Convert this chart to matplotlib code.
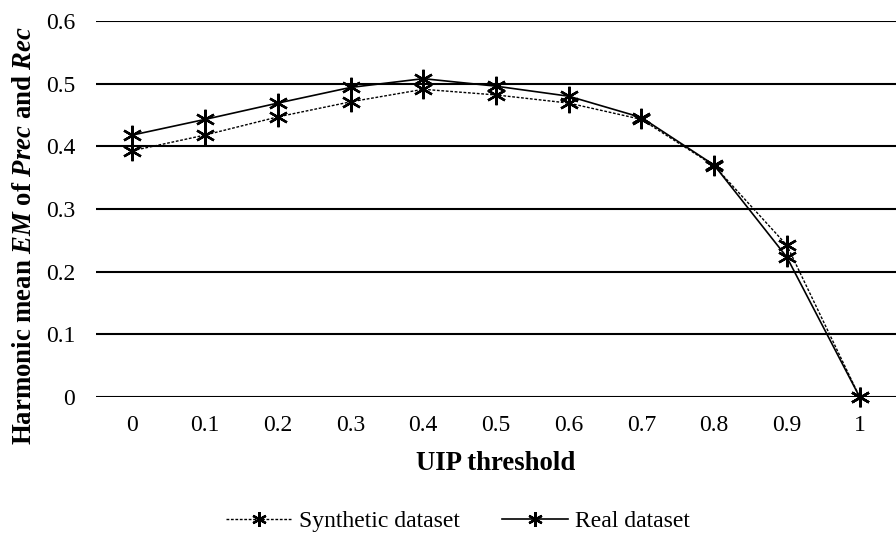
import matplotlib
matplotlib.use('Agg')
import matplotlib.pyplot as plt

# Data
thresholds = ['0', '0.1', '0.2', '0.3', '0.4', '0.5', '0.6', '0.7', '0.8', '0.9', '1']
synthetic = [0.393, 0.418, 0.447, 0.471, 0.491, 0.482, 0.469, 0.443, 0.369, 0.242, 0.0]
real = [0.418, 0.443, 0.469, 0.494, 0.508, 0.496, 0.480, 0.446, 0.370, 0.223, 0.0]
yticks = [0, 0.1, 0.2, 0.3, 0.4, 0.5, 0.6]

plt.rcParams['font.family'] = 'Liberation Serif'
plt.rcParams['mathtext.fontset'] = 'custom'
plt.rcParams['mathtext.bfit'] = 'Liberation Serif:italic:bold'
plt.rcParams['mathtext.rm'] = 'Liberation Serif'

fig = plt.figure(figsize=(8.96, 5.43), dpi=100)
ax = fig.add_axes([96 / 896, 1 - 397 / 543, 800 / 896, 376 / 543])

x = list(range(len(thresholds)))
asterisk = (6, 2, 0)

for y in yticks:
    ax.axhline(y, color='black', linewidth=1.5, zorder=1)

ax.plot(x, synthetic, color='black', linestyle=(0, (2, 1.2)), linewidth=1.0,
        marker=asterisk, markersize=14, markeredgewidth=1.7, label='Synthetic dataset',
        zorder=3, clip_on=False)
ax.plot(x, real, color='black', linestyle='-', linewidth=1.2,
        marker=asterisk, markersize=14, markeredgewidth=1.7, label='Real dataset',
        zorder=3, clip_on=False)

ax.set_xlim(-0.5, len(thresholds) - 0.5)
ax.set_ylim(0, 0.6)
ax.set_xticks(x)
ax.set_xticklabels(thresholds)
ax.set_yticks(yticks)
ax.set_yticklabels(['0', '0.1', '0.2', '0.3', '0.4', '0.5', '0.6'])
ax.tick_params(axis='both', length=0, labelsize=17)
ax.tick_params(axis='x', pad=13)
ax.tick_params(axis='y', pad=15)
for s in ax.spines.values():
    s.set_visible(False)

ax.set_xlabel('UIP threshold', fontsize=19.3, fontweight='bold')
ax.xaxis.set_label_coords(0.5, -0.143)
ax.set_ylabel(r'Harmonic mean $\mathbfit{EM}$ of $\mathbfit{Prec}$ and $\mathbfit{Rec}$',
              fontsize=19.3, fontweight='bold')
ax.yaxis.set_label_coords(-0.074, 0.431)

fig.legend(loc='center', bbox_to_anchor=(0.511, 1 - 521 / 543), ncol=2, frameon=False,
           fontsize=17, handlelength=2.8, columnspacing=1.8, handletextpad=0.3,
           markerscale=0.75)

fig.savefig('out.png', dpi=100)
